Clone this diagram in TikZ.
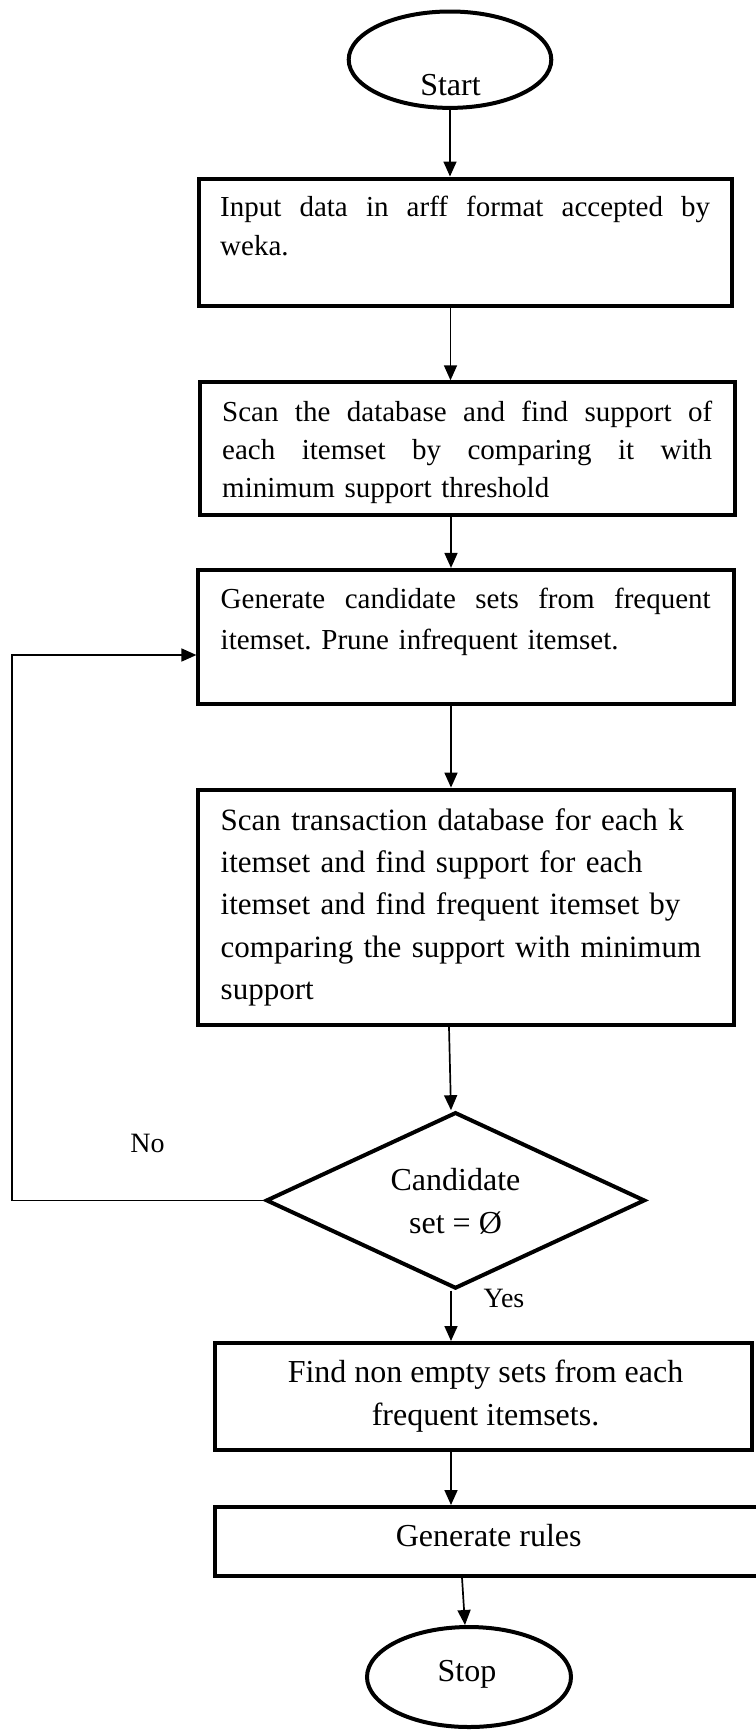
\documentclass[tikz,border=0pt]{standalone}
\usepackage{fontspec}
\setmainfont{Liberation Serif}
\usetikzlibrary{arrows.meta,shapes.geometric}
\frenchspacing
\newcommand\jline[1]{\makebox[490pt][s]{\spaceskip=0pt\xspaceskip=0pt #1}}
\begin{document}
\begin{tikzpicture}[x=1pt,y=-1pt,
  box/.style={draw, line width=4pt, rectangle, inner sep=0pt},
  term/.style={draw, line width=4pt, ellipse, inner sep=0pt},
  dec/.style={draw, line width=4pt, diamond, inner sep=0pt},
  arr/.style={line width=1.7pt, -{Triangle[length=15pt,width=13pt]}},
  smalltxt/.style={inner sep=0pt, anchor=north west, align=left, text width=492pt},
  bigtxt/.style={inner sep=0pt, font=\fontsize{32}{43}\selectfont},
  lbl/.style={inner sep=0pt, anchor=base, font=\fontsize{28}{34}\selectfont}]
\useasboundingbox (0,0) rectangle (755,1732);

% shapes
\node[term, minimum width=202.6pt, minimum height=96.4pt] (st) at (450,59.7) {};
\node[box, minimum width=533.9pt, minimum height=127.8pt] (b1) at (465.45,242.4) {};
\node[box, minimum width=535.1pt, minimum height=132.9pt] (b2) at (467.85,448.75) {};
\node[box, minimum width=535.3pt, minimum height=133.9pt] (b3) at (466.05,636.85) {};
\node[box, minimum width=535.3pt, minimum height=235.4pt] (b4) at (466.05,907.3) {};
\node[dec, minimum width=379pt, minimum height=176.4pt] (dia) at (455.5,1200.4) {};
\node[box, minimum width=536.7pt, minimum height=106.5pt] (b5) at (483.65,1396.25) {};
\node[box, minimum width=542.7pt, minimum height=68.5pt] (b6) at (486.65,1541.25) {};
\node[term, minimum width=204pt, minimum height=100pt] (sp) at (469,1677) {};

% texts
\node[bigtxt, anchor=base] (tst) at (450.5,95.7) {Start};
\node[smalltxt, font=\fontsize{29}{39}\selectfont] (t1) at (220,189.1)
  {\strut\jline{Input data in arff format accepted by}\\weka.};
\node[smalltxt, font=\fontsize{29}{38}\selectfont] (t2) at (222,394.4)
  {\strut\jline{Scan the database and find support of}\\
   \jline{each itemset by comparing it with}\\
   minimum support threshold};
\node[smalltxt, font=\fontsize{29}{40.6}\selectfont] (t3) at (220.5,580)
  {\strut\jline{Generate candidate sets from frequent}\\
   itemset. Prune infrequent itemset.};
\node[smalltxt, text width=510pt, font=\fontsize{31}{42.2}\selectfont] (t4) at (220.5,800.7)
  {\strut Scan transaction database for each k\\
   itemset and find support for each\\
   itemset and find frequent itemset by\\
   comparing the support with minimum\\
   support};
\node[bigtxt, anchor=north, align=center] (tdia) at (455.5,1160.6)
  {\strut Candidate\\set = Ø};
\node[bigtxt, anchor=north, align=center] (t5) at (485.5,1352.2)
  {\strut Find non empty sets from each\\frequent itemsets.};
\node[bigtxt, anchor=base] (t6) at (488.7,1546.5) {Generate rules};
\node[bigtxt, anchor=base] (tsp) at (467,1681) {Stop};
\node[lbl] (tno) at (147.5,1152) {No};
\node[lbl] (tyes) at (504,1307.7) {Yes};

% helper x positions
\coordinate (x0) at (450.5,0);
\coordinate (x1) at (451,0);
\coordinate (x2) at (449,0);
\coordinate (x3) at (462,0);
\coordinate (x4) at (465,0);
\coordinate (c1) at (12,1200.4);
\coordinate (c2) at (12,655);

% connectors
\draw[arr] (st.south) -- (st.south |- b1.north);
\draw[arr] (b1.south -| x0) -- (b2.north -| x0);
\draw[arr] (b2.south -| x1) -- (b3.north -| x1);
\draw[arr] (b3.south -| x1) -- (b4.north -| x1);
\draw[arr] (b4.south -| x2) -- (dia.north -| x1);
\draw[arr] (dia.south -| x1) -- (b5.north -| x1);
\draw[arr] (b5.south -| x1) -- (b6.north -| x1);
\draw[arr] (b6.south -| x3) -- (sp.north -| x4);
\draw[arr] (dia.west) -- (c1) -- (c2) -- (c2 -| b3.west);
\end{tikzpicture}
\end{document}
